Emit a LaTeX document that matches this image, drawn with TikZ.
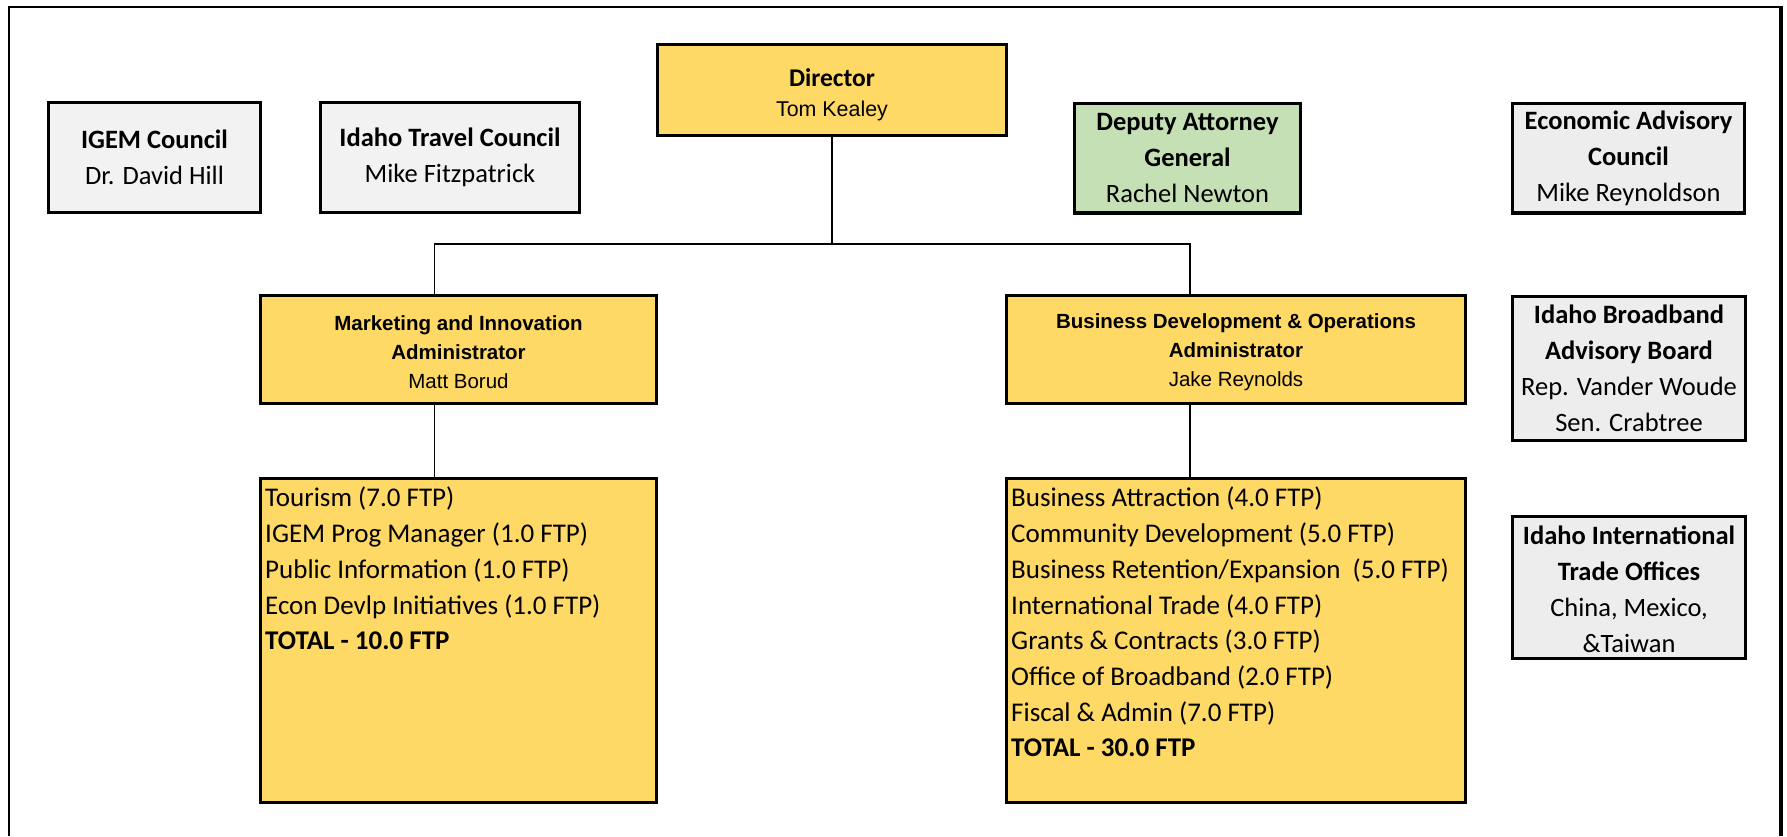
\documentclass[tikz,border=0pt]{standalone}
\usepackage{fontspec}
\setmainfont{Carlito}
\newfontfamily\arialfont{Liberation Sans}
\usetikzlibrary{calc}
\definecolor{boxyellow}{HTML}{FFD966}
\definecolor{boxgreen}{HTML}{C5E0B4}
\definecolor{boxgrey}{HTML}{F2F2F2}
\definecolor{boxgreyb}{HTML}{EDEDED}
\newcommand{\textdrop}[1]{\rule{0pt}{#1}}
\tikzset{
  box/.style={draw, line width=3.3pt, inner sep=0pt, align=center},
  side/.style={box, fill=boxgrey, font=\fontsize{26.5}{36}\selectfont, minimum height=109.7pt},
  admin/.style={box, fill=boxyellow, font=\arialfont\fontsize{20.5}{29}\selectfont, minimum height=107.7pt},
  unit/.style={box, fill=boxyellow, minimum height=323.7pt},
  items/.style={inner sep=0pt, align=left, anchor=north west, font=\fontsize{27}{35.7}\selectfont},
  link/.style={line width=1.8pt}
}

\begin{document}
\begin{tikzpicture}[x=1pt, y=-1pt] %org chart
\useasboundingbox (0,0) rectangle (1787,836);
\draw[line width=2pt] (9,836) -- (9,7) -- (1781,7);
\draw[line width=3.5pt] (1781,6) -- (1781,836);
%top row
\node[box, fill=boxyellow, minimum width=348.7pt, minimum height=90.7pt, font=\fontsize{25.5}{30}\selectfont] (dir) at (832,90) {\textdrop{28pt}\textbf{Director}\\{\arialfont\fontsize{21.4}{30}\selectfont Tom Kealey}};
\node[side, minimum width=211.7pt] (igem) at (154.5,157.5) {\textbf{IGEM Council}\\Dr. David Hill};
\node[side, minimum width=258.7pt] (travel) at (450,157.5) {\textbf{Idaho Travel Council}\\Mike Fitzpatrick};
\node[side, fill=boxgreen, minimum width=225.7pt] (dag) at (1187.5,158) {\textbf{Deputy Attorney}\\\textbf{General}\\Rachel Newton};
\node[side, fill=boxgreyb, minimum width=231.7pt] (econ) at (1628.5,158) {\textbf{Economic Advisory}\\\textbf{Council}\\Mike Reynoldson};
%administrators
\node[admin, minimum width=395.7pt] (mkt) at (458.5,349.5) {\textdrop{21pt}\textbf{Marketing and Innovation}\\\textbf{Administrator}\\Matt Borud};
\node[admin, minimum width=458.7pt] (biz) at (1236,349.5) {\textdrop{21pt}\textbf{Business Development \& Operations}\\\textbf{Administrator}\\Jake Reynolds};
\node[side, fill=boxgreyb, minimum width=232.7pt, minimum height=143.7pt] (broadband) at (1629,368.5) {\textbf{Idaho Broadband}\\\textbf{Advisory Board}\\Rep. Vander Woude\\Sen. Crabtree};
\node[side, fill=boxgreyb, minimum width=232.7pt, minimum height=141.7pt] (trade) at (1629,587.5) {\textdrop{22pt}\textbf{Idaho International}\\\textbf{Trade Offices}\\China, Mexico,\\\&Taiwan};
%units
\node[unit, minimum width=395.7pt] (mktlist) at (458.5,640.5) {};
\node[unit, minimum width=458.7pt] (bizlist) at (1236,640.5) {};
\node[items] (mktitems) at ([xshift=6pt, yshift=-10pt]mktlist.north west) {Tourism (7.0 FTP)\\IGEM Prog Manager (1.0 FTP)\\Public Information (1.0 FTP)\\Econ Devlp Initiatives (1.0 FTP)\\\textbf{TOTAL - 10.0 FTP}};
\node[items] (bizitems) at ([xshift=6pt, yshift=-10pt]bizlist.north west) {Business Attraction (4.0 FTP)\\Community Development (5.0 FTP)\\Business Retention/Expansion\ \ (5.0 FTP)\\International Trade (4.0 FTP)\\Grants \& Contracts (3.0 FTP)\\Office of Broadband (2.0 FTP)\\Fiscal \& Admin (7.0 FTP)\\\textbf{TOTAL - 30.0 FTP}};
%connectors
\coordinate (bus) at (0,244);
\coordinate (mktin) at ($(mkt.north west)!0.44!(mkt.north east)$);
\coordinate (bizin) at ($(biz.north west)!0.4!(biz.north east)$);
\draw[link] (dir.south) -- (dir.south |- bus);
\draw[link] (mktin) -- (mktin |- bus) -- (bizin |- bus) -- (bizin);
\draw[link] (mkt.south -| mktin) -- (mktlist.north -| mktin);
\draw[link] (biz.south -| bizin) -- (bizlist.north -| bizin);
\end{tikzpicture}
\end{document}
